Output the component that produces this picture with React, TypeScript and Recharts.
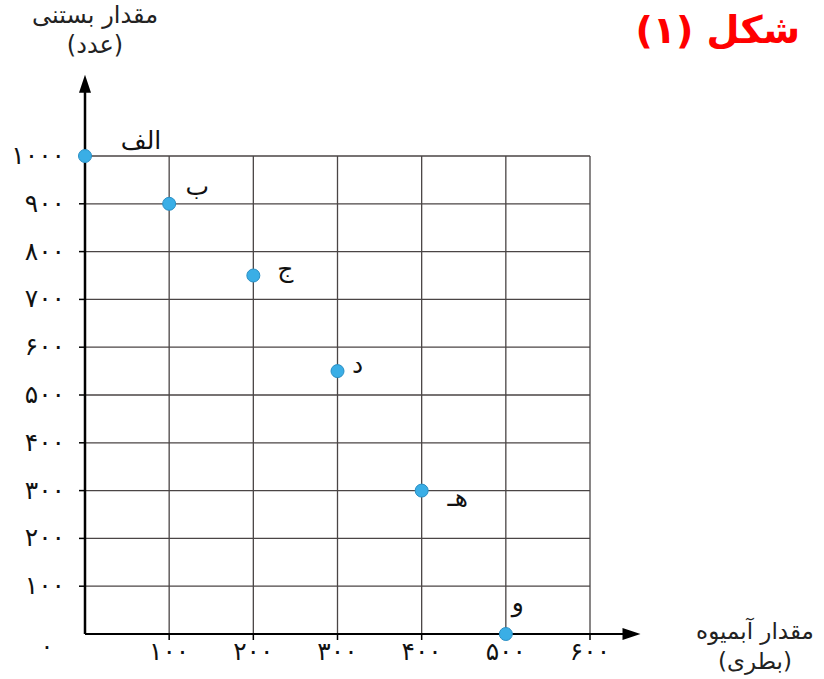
import React from "react";
import {
  ScatterChart,
  Scatter,
  XAxis,
  YAxis,
  CartesianGrid,
  ReferenceLine,
  ReferenceDot,
  LabelList,
} from "recharts";

// juice bottles (x) vs ice-cream count (y)
const pointNames = ["الف", "ب", "ج", "د", "هـ", "و"];
const juiceBottles = [0, 100, 200, 300, 400, 500];
const iceCreams = [1000, 900, 750, 550, 300, 0];

const xTicks = [100, 200, 300, 400, 500, 600];
const yTicks = [100, 200, 300, 400, 500, 600, 700, 800, 900, 1000];

const points = pointNames.map((name, i) => ({
  name,
  x: juiceBottles[i],
  y: iceCreams[i],
}));

const FONT = "'DejaVu Sans', sans-serif";
const FA_DIGITS = "۰۱۲۳۴۵۶۷۸۹";
const toFa = (n: number) => String(n).replace(/\d/g, (d) => FA_DIGITS[Number(d)]);

// where each point's letter sits relative to its dot
const labelPlacement: Record<string, { dx: number; dy: number }> = {
  "الف": { dx: 56, dy: -14 },
  "ب": { dx: 28, dy: -16 },
  "ج": { dx: 32, dy: -6 },
  "د": { dx: 20, dy: -5 },
  "هـ": { dx: 36, dy: 8 },
  "و": { dx: 12, dy: -30 },
};

const PointLabel = (props: any) => {
  const { x, y, width, height, value } = props;
  const cx = x + (width ?? 0) / 2;
  const cy = y + (height ?? 0) / 2;
  const p = labelPlacement[value] ?? { dx: 20, dy: 0 };
  return (
    <text
      x={cx + p.dx}
      y={cy + p.dy}
      textAnchor="middle"
      dominantBaseline="middle"
      fontFamily={FONT}
      fontSize={25}
      fill="#111"
    >
      {value}
    </text>
  );
};

const XTick = (props: any) => {
  const { x, y, payload } = props;
  return (
    <text x={x} y={y} dy={16} textAnchor="middle" fontFamily={FONT} fontSize={25} fill="#111" letterSpacing={5}>
      {toFa(payload.value)}
    </text>
  );
};

const YTick = (props: any) => {
  const { x, y, payload } = props;
  return (
    <text x={x} y={y} dy={8} textAnchor="end" fontFamily={FONT} fontSize={25} fill="#111" letterSpacing={5}>
      {toFa(payload.value)}
    </text>
  );
};

const ArrowUp = (props: any) => {
  const { cx, cy } = props;
  return <polygon points={`${cx},${cy} ${cx - 6},${cy + 18} ${cx + 6},${cy + 18}`} fill="#000" />;
};

const ArrowRight = (props: any) => {
  const { cx, cy } = props;
  return <polygon points={`${cx},${cy} ${cx - 18},${cy - 6} ${cx - 18},${cy + 6}`} fill="#000" />;
};

const Origin = (props: any) => {
  const { cx, cy } = props;
  return (
    <text x={cx - 38} y={cy + 20} textAnchor="middle" fontFamily={FONT} fontSize={24} fill="#111">
      {toFa(0)}
    </text>
  );
};

export default function App() {
  return (
    <div style={{ position: "absolute", left: 0, top: 0, width: 824, height: 679, background: "#fff" }}>
      <ScatterChart width={824} height={679} margin={{ top: 156, right: 234, bottom: 0, left: 0 }}>
        <CartesianGrid stroke="#4a4545" strokeWidth={1.3} />
        <XAxis
          type="number"
          dataKey="x"
          domain={[0, 600]}
          ticks={xTicks}
          height={45}
          axisLine={false}
          tickLine={{ stroke: "#000", strokeWidth: 1.5 }}
          tickSize={6}
          tickMargin={4}
          tick={<XTick />}
        />
        <YAxis
          type="number"
          dataKey="y"
          domain={[0, 1000]}
          ticks={yTicks}
          width={85}
          axisLine={false}
          tickLine={{ stroke: "#000", strokeWidth: 1.5 }}
          tickSize={6}
          tickMargin={14}
          tick={<YTick />}
        />
        <ReferenceLine
          segment={[{ x: 0, y: 0 }, { x: 650, y: 0 }]}
          stroke="#000"
          strokeWidth={2}
          ifOverflow="visible"
        />
        <ReferenceLine
          segment={[{ x: 0, y: 0 }, { x: 0, y: 1150 }]}
          stroke="#000"
          strokeWidth={2.5}
          ifOverflow="visible"
        />
        <ReferenceDot x={660} y={0} ifOverflow="visible" shape={<ArrowRight />} />
        <ReferenceDot x={0} y={1170} ifOverflow="visible" shape={<ArrowUp />} />
        <ReferenceDot x={0} y={0} ifOverflow="visible" shape={<Origin />} />
        <Scatter
          data={points}
          fill="#3aaee6"
          isAnimationActive={false}
          shape={(p: any) => <circle cx={p.cx} cy={p.cy} r={6.5} fill="#3aaee6" stroke="#2a8fc4" />}
        >
          <LabelList dataKey="name" content={<PointLabel />} />
        </Scatter>
      </ScatterChart>

      <div
        dir="rtl"
        style={{
          position: "absolute",
          left: 630,
          top: 2,
          width: 170,
          textAlign: "right",
          fontFamily: FONT,
          fontWeight: "bold",
          fontSize: 38,
          color: "#ff0000",
          lineHeight: "56px",
        }}
      >
        شکل (۱)
      </div>

      <div
        dir="rtl"
        style={{
          position: "absolute",
          left: 10,
          top: 0,
          width: 170,
          textAlign: "center",
          fontFamily: FONT,
          fontSize: 24,
          color: "#222",
          lineHeight: "30px",
          letterSpacing: 1,
        }}
      >
        مقدار بستنی
        <br />
        (عدد)
      </div>

      <div
        dir="rtl"
        style={{
          position: "absolute",
          left: 680,
          top: 616,
          width: 150,
          textAlign: "center",
          fontFamily: FONT,
          fontSize: 23,
          color: "#222",
          lineHeight: "30px",
        }}
      >
        مقدار آبمیوه
        <br />
        (بطری)
      </div>
    </div>
  );
}
